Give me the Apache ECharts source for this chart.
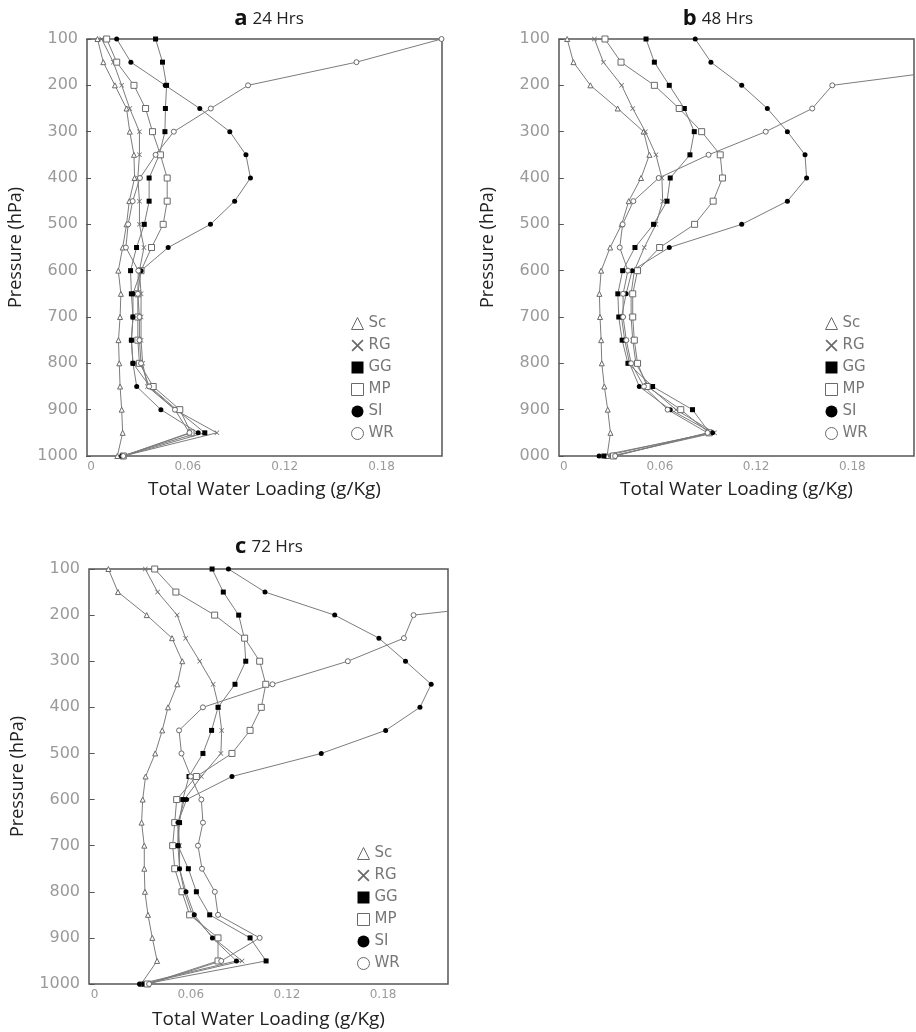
<!DOCTYPE html>
<html>
<head>
<meta charset="utf-8">
<script src="https://cdn.jsdelivr.net/npm/echarts@6/dist/echarts.min.js"></script>
<style>
  html, body { margin: 0; background: #fff; }
  #chart { width: 916px; height: 1032px; }
</style>
</head>
<body>
<div id="chart"></div>
<script>
// pressure levels (hPa), shared by all panels
const levels = [100, 150, 200, 250, 300, 350, 400, 450, 500, 550, 600, 650, 700, 750, 800, 850, 900, 950, 1000];
const schemes = ["Sc", "RG", "GG", "MP", "SI", "WR"];
const xTicks = [0, 0.06, 0.12, 0.18];

// total water loading (g/Kg), 24 Hrs
const sc24 = [0.004, 0.0076, 0.0148, 0.022, 0.024, 0.0266, 0.027, 0.0237, 0.022, 0.0196, 0.0169, 0.0185, 0.018, 0.017, 0.0175, 0.018, 0.019, 0.0196, 0.0163];
const rg24 = [0.0066, 0.0138, 0.019, 0.024, 0.030, 0.030, 0.029, 0.030, 0.030, 0.0328, 0.030, 0.031, 0.031, 0.031, 0.032, 0.035, 0.052, 0.078, 0.020];
const gg24 = [0.040, 0.0443, 0.0468, 0.0461, 0.0458, 0.0423, 0.036, 0.036, 0.033, 0.0282, 0.0245, 0.025, 0.026, 0.025, 0.026, 0.0365, 0.053, 0.0705, 0.020];
const mp24 = [0.0097, 0.0159, 0.0266, 0.0338, 0.0381, 0.043, 0.0472, 0.0472, 0.0447, 0.0375, 0.031, 0.029, 0.029, 0.029, 0.030, 0.0385, 0.055, 0.062, 0.020];
const si24 = [0.0159, 0.0247, 0.046, 0.0674, 0.086, 0.096, 0.0988, 0.089, 0.074, 0.0478, 0.031, 0.026, 0.026, 0.025, 0.026, 0.0283, 0.0433, 0.0664, 0.019];
const wr24 = [0.2172, 0.1645, 0.0973, 0.0742, 0.0513, 0.040, 0.0303, 0.0258, 0.023, 0.0216, 0.0293, 0.029, 0.030, 0.030, 0.031, 0.036, 0.052, 0.061, 0.020];

// 48 Hrs
const sc48 = [0.0021, 0.006, 0.0166, 0.0336, 0.0498, 0.0534, 0.0482, 0.0405, 0.0361, 0.0289, 0.0233, 0.0222, 0.0226, 0.0233, 0.0237, 0.0253, 0.0274, 0.0291, 0.027];
const rg48 = [0.0191, 0.0247, 0.0361, 0.043, 0.0509, 0.0575, 0.0612, 0.0617, 0.0575, 0.0502, 0.044, 0.042, 0.042, 0.043, 0.045, 0.053, 0.070, 0.094, 0.030];
const gg48 = [0.0513, 0.0565, 0.0658, 0.0752, 0.0814, 0.0787, 0.0664, 0.0644, 0.056, 0.0444, 0.0367, 0.0337, 0.0343, 0.0364, 0.040, 0.0554, 0.0803, 0.091, 0.025];
const mp48 = [0.0257, 0.0357, 0.0565, 0.072, 0.086, 0.0976, 0.099, 0.0932, 0.0816, 0.0598, 0.046, 0.043, 0.043, 0.044, 0.046, 0.052, 0.073, 0.0907, 0.031];
const si48 = [0.082, 0.0918, 0.111, 0.127, 0.1395, 0.1505, 0.1515, 0.1395, 0.111, 0.0658, 0.0426, 0.0389, 0.036, 0.038, 0.041, 0.0471, 0.0664, 0.0928, 0.022];
const wr48 = [0.30, 0.279, 0.1675, 0.155, 0.126, 0.0903, 0.0592, 0.0434, 0.0367, 0.0349, 0.040, 0.037, 0.037, 0.039, 0.042, 0.050, 0.0648, 0.0897, 0.032];

// 72 Hrs
const sc72 = [0.0086, 0.0146, 0.0325, 0.0483, 0.0547, 0.0516, 0.0458, 0.0422, 0.0378, 0.0318, 0.030, 0.0293, 0.031, 0.031, 0.0314, 0.0333, 0.036, 0.039, 0.029];
const rg72 = [0.0316, 0.0393, 0.0515, 0.0568, 0.0656, 0.074, 0.0775, 0.0793, 0.0788, 0.0666, 0.056, 0.052, 0.053, 0.053, 0.056, 0.061, 0.074, 0.092, 0.030];
const gg72 = [0.0733, 0.0803, 0.0899, 0.0934, 0.0943, 0.0876, 0.077, 0.073, 0.0676, 0.0589, 0.055, 0.053, 0.052, 0.0585, 0.0635, 0.0718, 0.097, 0.107, 0.031];
const mp72 = [0.0375, 0.0507, 0.0749, 0.0936, 0.103, 0.1068, 0.104, 0.097, 0.0857, 0.0635, 0.0512, 0.050, 0.0487, 0.050, 0.0545, 0.0593, 0.077, 0.077, 0.033];
const si72 = [0.0835, 0.1063, 0.1498, 0.1774, 0.194, 0.210, 0.203, 0.1816, 0.1414, 0.0857, 0.0574, 0.052, 0.052, 0.053, 0.057, 0.0622, 0.0735, 0.0885, 0.028];
const wr72 = [0.35, 0.329, 0.199, 0.193, 0.158, 0.111, 0.0676, 0.0527, 0.0542, 0.060, 0.0666, 0.0676, 0.0645, 0.067, 0.075, 0.077, 0.103, 0.079, 0.034];

const panels = [
  { letter: "a", hrs: "24 Hrs", values: [sc24, rg24, gg24, mp24, si24, wr24] },
  { letter: "b", hrs: "48 Hrs", values: [sc48, rg48, gg48, mp48, si48, wr48] },
  { letter: "c", hrs: "72 Hrs", values: [sc72, rg72, gg72, mp72, si72, wr72] }
];

// layout for each panel
const boxes = [
  { left: 87, top: 39, width: 355, height: 417, xmin: -0.0025, xmax: 0.2175, titleX: 269, titleY: 7, legendX: 351, legendY: 316, nameGap: 24 },
  { left: 559, top: 39, width: 355, height: 417, xmin: -0.003, xmax: 0.2185, titleX: 718, titleY: 7, legendX: 825, legendY: 316, nameGap: 24 },
  { left: 89, top: 569, width: 359, height: 415, xmin: -0.0035, xmax: 0.2205, titleX: 269, titleY: 535, legendX: 357, legendY: 846, nameGap: 26 }
];

const LINE = "#7c7c7c";
const EDGE = "#6a6a6a";
const CROSS = "path://M0,1L1,0L5,4L9,0L10,1L6,5L10,9L9,10L5,6L1,10L0,9L4,5Z";
const marks = {
  Sc: { symbol: "triangle", size: 5, itemStyle: { color: "#fff", borderColor: EDGE, borderWidth: 1 } },
  RG: { symbol: CROSS, size: 5, itemStyle: { color: EDGE, borderWidth: 0 } },
  GG: { symbol: "rect", size: 5, itemStyle: { color: "#000", borderWidth: 0 } },
  MP: { symbol: "rect", size: 6, itemStyle: { color: "#fff", borderColor: EDGE, borderWidth: 1 } },
  SI: { symbol: "circle", size: 5, itemStyle: { color: "#000", borderWidth: 0 } },
  WR: { symbol: "circle", size: 5, itemStyle: { color: "#fff", borderColor: EDGE, borderWidth: 1 } }
};

const chart = echarts.init(document.getElementById("chart"), null, { renderer: "canvas" });

const grid = [], xAxis = [], yAxis = [], series = [], title = [], legend = [];

panels.forEach((p, k) => {
  const b = boxes[k];
  grid.push({
    left: b.left, top: b.top, width: b.width, height: b.height,
    show: true, borderColor: "#555", borderWidth: 1.5, backgroundColor: "transparent"
  });
  xAxis.push({
    gridIndex: k, type: "value", min: b.xmin, max: b.xmax,
    name: "Total Water Loading (g/Kg)", nameLocation: "middle", nameGap: b.nameGap,
    nameTextStyle: { color: "#222", fontSize: 19, fontFamily: "Open Sans" },
    axisLine: { show: false }, axisTick: { show: false }, splitLine: { show: false },
    axisLabel: { customValues: xTicks, color: "#9a9a9a", fontSize: 12, fontFamily: "DejaVu Sans", margin: 5 }
  });
  yAxis.push({
    gridIndex: k, type: "value", min: 100, max: 1000, interval: 100, inverse: true,
    name: "Pressure (hPa)", nameLocation: "middle", nameGap: 62,
    nameTextStyle: { color: "#222", fontSize: 18, fontFamily: "Open Sans" },
    axisLine: { show: false }, splitLine: { show: false },
    axisTick: { show: true, length: 5, lineStyle: { color: "#555" } },
    axisLabel: {
      color: "#9a9a9a", fontSize: 16, fontFamily: "DejaVu Sans", margin: 9,
      formatter: v => (k === 1 && v === 1000 ? "000" : String(v))
    }
  });
  title.push({
    text: "{b|" + p.letter + "} {n|" + p.hrs + "}",
    left: b.titleX, top: b.titleY, textAlign: "center", padding: 0,
    textStyle: {
      fontWeight: "normal",
      rich: {
        b: { fontWeight: "bold", fontSize: 22, fontFamily: "Open Sans", color: "#111", lineHeight: 24 },
        n: { fontWeight: "normal", fontSize: 17, fontFamily: "Open Sans", color: "#222", lineHeight: 24 }
      }
    }
  });
  schemes.forEach((name, j) => {
    const m = marks[name];
    series.push({
      type: "line", name: name, xAxisIndex: k, yAxisIndex: k,
      symbol: m.symbol, symbolSize: m.size, showAllSymbol: true,
      lineStyle: { color: LINE, width: 1 },
      itemStyle: m.itemStyle,
      emphasis: { disabled: true },
      data: levels.map((lev, i) => [p.values[j][i], lev])
    });
  });
  legend.push({
    orient: "vertical", left: b.legendX, top: b.legendY, padding: 0,
    itemWidth: 12, itemHeight: 12, itemGap: 7, selectedMode: false,
    textStyle: { color: "#777", fontSize: 15, fontFamily: "DejaVu Sans", lineHeight: 12 },
    data: schemes.map(name => ({ name: name, icon: marks[name].symbol, itemStyle: marks[name].itemStyle }))
  });
});

chart.setOption({
  animation: false,
  backgroundColor: "#fff",
  title, legend, grid, xAxis, yAxis, series
});
</script>
</body>
</html>
